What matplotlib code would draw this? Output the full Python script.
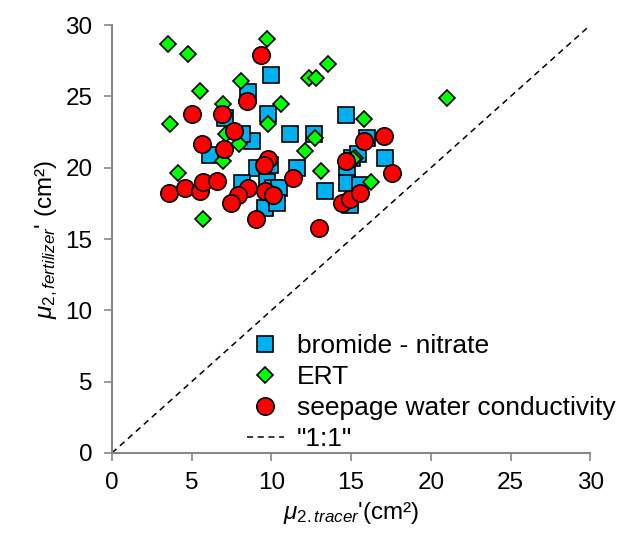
import matplotlib
matplotlib.use("Agg")
import matplotlib.pyplot as plt

plt.rcParams['font.family'] = ['Liberation Sans', 'DejaVu Sans']
plt.rcParams['mathtext.fontset'] = 'custom'
plt.rcParams['mathtext.rm'] = 'Liberation Sans'
plt.rcParams['mathtext.it'] = 'Liberation Sans:italic'

# bromide - nitrate
bn_x = [9.98, 8.54, 7.09, 9.79, 14.69, 11.17, 12.68, 8.79, 8.16, 6.15, 9.10, 9.92, 11.61,
        8.16, 9.73, 10.1, 10.5, 9.6, 10.36, 13.37, 14.75, 14.75, 15.07, 14.94, 16.0, 15.44,
        17.14, 15.57]
bn_y = [26.5, 25.3, 23.5, 23.8, 23.7, 22.4, 22.4, 21.9, 22.4, 20.9, 20.0, 20.2, 20.0,
        18.9, 19.0, 18.6, 18.6, 17.2, 17.5, 18.4, 20.0, 18.9, 20.7, 17.4, 22.1, 21.0,
        20.7, 18.8]

# ERT
ert_x = [3.52, 4.77, 9.73, 13.56, 12.37, 12.8, 8.1, 5.52, 6.97, 10.6, 3.64, 9.79, 12.74,
         7.16, 7.97, 12.1, 6.97, 13.1, 4.14, 5.71, 15.25, 21.0, 15.8, 16.25, 15.1]
ert_y = [28.7, 28.0, 29.0, 27.3, 26.3, 26.3, 26.1, 25.4, 24.5, 24.5, 23.1, 23.1, 22.1,
         22.4, 21.7, 21.2, 20.5, 19.8, 19.6, 16.4, 20.7, 24.9, 23.4, 19.0, 20.6]

# seepage water conductivity
sw_x = [9.35, 8.47, 5.02, 6.9, 7.66, 5.65, 7.03, 9.79, 9.54, 11.36, 14.69, 3.58, 4.58,
        5.52, 5.71, 6.59, 8.54, 7.91, 7.47, 9.6, 10.1, 9.04, 13.0, 14.44, 14.94, 17.07,
        15.82, 17.58, 15.57]
sw_y = [27.9, 24.7, 23.8, 23.8, 22.6, 21.7, 21.3, 20.6, 20.2, 19.3, 20.5, 18.2, 18.6,
        18.4, 19.0, 19.1, 18.6, 18.1, 17.5, 18.4, 18.1, 16.4, 15.8, 17.5, 17.8, 22.2,
        21.9, 19.6, 18.2]

line_x = [0, 30]
line_y = [0, 30]

fig = plt.figure(figsize=(6.22, 5.36), dpi=100)
ax = fig.add_axes([0.180, 0.155, 0.769, 0.798])

ax.plot(bn_x, bn_y, linestyle='none', marker='s', markersize=12,
        markerfacecolor='#00B0F0', markeredgecolor='black', markeredgewidth=1.2,
        label='bromide - nitrate', zorder=3)
ax.plot(ert_x, ert_y, linestyle='none', marker='D', markersize=8,
        markerfacecolor='#00FF00', markeredgecolor='black', markeredgewidth=1.2,
        label='ERT', zorder=4)
ax.plot(sw_x, sw_y, linestyle='none', marker='o', markersize=12.5,
        markerfacecolor='#FF0000', markeredgecolor='black', markeredgewidth=1.2,
        label='seepage water conductivity', zorder=5)
ax.plot(line_x, line_y, linestyle=(0, (4, 3)), color='black', linewidth=1.1,
        label='"1:1"', zorder=2)

ax.set_xlim(0, 30)
ax.set_ylim(0, 30)
ax.set_xticks(range(0, 31, 5))
ax.set_yticks(range(0, 31, 5))
for s in ['top', 'right']:
    ax.spines[s].set_visible(False)
for s in ['left', 'bottom']:
    ax.spines[s].set_color('#888888')
    ax.spines[s].set_linewidth(1.5)
ax.tick_params(direction='out', length=6, width=1.2, color='#888888',
               labelsize=17.5, pad=8)

ax.set_xlabel(r"$\mu_{2.tracer}$'(cm²)", fontsize=17.5, labelpad=4)
ax.set_ylabel(r"$\mu_{2,fertilizer}$' (cm²)", fontsize=17.5, labelpad=4)

leg = ax.legend(loc='lower left', bbox_to_anchor=(0.26, -0.02), frameon=False,
                fontsize=19, handlelength=1.4, handletextpad=0.5,
                labelspacing=0.26, borderaxespad=0.0)
leg.set_clip_on(False)

fig.savefig('out.png', dpi=100)
